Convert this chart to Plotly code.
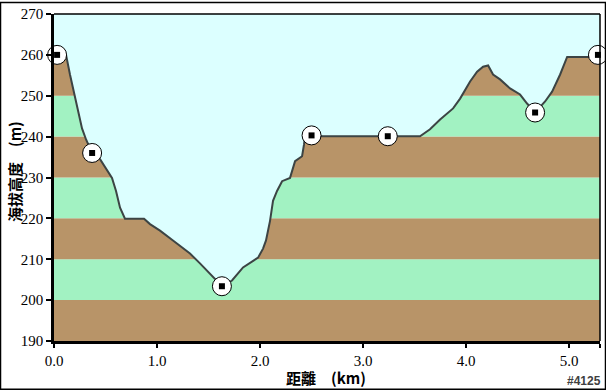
import plotly.graph_objects as go

# Elevation profile (distance km, elevation m)
dist_km = [0.0, 0.117, 0.155, 0.194, 0.233, 0.272, 0.311, 0.369, 0.447, 0.505, 0.563,
           0.602, 0.641, 0.689, 0.874, 0.932, 1.029, 1.155, 1.320, 1.417, 1.544, 1.631,
           1.728, 1.835, 1.981, 2.029, 2.058, 2.097, 2.126, 2.165, 2.214, 2.291, 2.340,
           2.408, 2.427, 2.437, 2.495, 2.610, 3.243, 3.553, 3.650, 3.748, 3.874, 3.942,
           4.039, 4.107, 4.165, 4.214, 4.262, 4.330, 4.427, 4.524, 4.592, 4.670, 4.767,
           4.835, 4.913, 4.961, 4.981, 5.300]
elev_m = [260.0, 260.0, 255.2, 251.0, 246.1, 242.0, 239.3, 236.0, 234.5, 232.3, 229.9,
          226.7, 222.6, 219.9, 219.9, 218.6, 217.0, 214.6, 211.4, 209.0, 205.6, 203.4,
          204.8, 208.0, 210.4, 212.6, 214.6, 219.4, 224.3, 226.7, 229.1, 229.9, 234.0,
          235.2, 238.1, 240.1, 240.3, 240.1, 240.1, 240.1, 241.8, 244.2, 246.9, 249.3,
          253.5, 255.9, 257.1, 257.4, 255.2, 254.0, 251.8, 250.3, 248.1, 245.9, 248.6,
          251.0, 255.2, 258.3, 259.5, 259.5]

# Waypoint markers
wp_km = [0.03, 0.37, 1.63, 2.50, 3.24, 4.67, 5.28]
wp_m = [260.0, 236.0, 203.4, 240.3, 240.1, 245.9, 260.0]

# Axis ticks
x_ticks = [0.0, 1.0, 2.0, 3.0, 4.0, 5.0, 5.3]
x_tick_text = ["0.0", "1.0", "2.0", "3.0", "4.0", "5.0", "5.3"]
y_ticks = [190, 200, 210, 220, 230, 240, 250, 260, 270]

# Elevation bands (lower, upper) alternating colours
bands = [(190, 200), (200, 210), (210, 220), (220, 230), (230, 240),
         (240, 250), (250, 260), (260, 270)]

BROWN = "#B89468"
GREEN = "#A2F2C2"
SKY = "#DCFFFF"

fig = go.Figure()

# top reference for sky fill
fig.add_trace(go.Scatter(x=[0.0, 5.3], y=[270, 270], mode="lines",
                         line=dict(width=0, color=SKY), hoverinfo="skip",
                         showlegend=False))
# profile with sky fill above it
fig.add_trace(go.Scatter(x=dist_km, y=elev_m, mode="lines",
                         line=dict(color="#3C4444", width=2),
                         fill="tonexty", fillcolor=SKY, showlegend=False))
# waypoint markers
fig.add_trace(go.Scatter(x=wp_km, y=wp_m, mode="markers",
                         marker=dict(symbol="circle", size=19, color="white",
                                     line=dict(color="black", width=1)),
                         cliponaxis=False, showlegend=False))
fig.add_trace(go.Scatter(x=wp_km, y=wp_m, mode="markers",
                         marker=dict(symbol="square", size=6, color="black"),
                         cliponaxis=False, showlegend=False))

shapes = []
for i, (lo, hi) in enumerate(bands):
    shapes.append(dict(type="rect", xref="x", yref="y", x0=0, x1=5.3, y0=lo, y1=hi,
                       fillcolor=BROWN if i % 2 == 0 else GREEN,
                       line=dict(width=0), layer="below"))
# top and right plot border
shapes.append(dict(type="line", xref="paper", yref="paper", x0=0, x1=1, y0=1, y1=1,
                   line=dict(color="black", width=1.5)))
shapes.append(dict(type="line", xref="paper", yref="paper", x0=1, x1=1, y0=0, y1=1,
                   line=dict(color="black", width=1.5)))
# outer figure border
shapes.append(dict(type="rect", xref="paper", yref="paper",
                   x0=-53.5 / 546, x1=551.5 / 546, y0=-48.5 / 329, y1=340.5 / 329,
                   line=dict(color="black", width=1.5), fillcolor="rgba(0,0,0,0)"))

tick_font = dict(family="Liberation Serif, 'Times New Roman', serif", size=15, color="black")

fig.update_layout(
    width=606, height=390,
    margin=dict(l=54, r=6, t=12, b=49),
    paper_bgcolor="white", plot_bgcolor="white",
    shapes=shapes,
    showlegend=False,
    xaxis=dict(range=[0, 5.3], tickvals=x_ticks, ticktext=x_tick_text,
               ticks="outside", ticklen=4, tickwidth=1.5, tickcolor="black",
               showline=True, linecolor="black", linewidth=2.5,
               showgrid=False, zeroline=False, tickfont=tick_font),
    yaxis=dict(range=[190, 270], tickvals=y_ticks,
               ticks="outside", ticklen=5, tickwidth=1.5, tickcolor="black",
               showline=True, linecolor="black", linewidth=2.5,
               showgrid=False, zeroline=False, tickfont=tick_font),
    annotations=[
        dict(text="<b>距離　(km)</b>", xref="paper", yref="paper",
             x=(326 - 54) / 546, y=-(378 - 341) / 329, xanchor="center", yanchor="middle",
             showarrow=False, font=dict(family="Noto Sans CJK TC", size=15, color="black")),
        dict(text="<b>海拔高度　(m)</b>", xref="paper", yref="paper",
             x=-(54 - 14) / 546, y=(341 - 171) / 329, xanchor="center", yanchor="middle",
             textangle=-90, showarrow=False,
             font=dict(family="Noto Sans CJK TC", size=15, color="black")),
        dict(text="<b>#4125</b>", xref="paper", yref="paper",
             x=(603 - 54) / 546, y=-(381 - 341) / 329, xanchor="right", yanchor="middle",
             showarrow=False, font=dict(family="Liberation Sans", size=12, color="#404040")),
    ],
)

fig.write_html("out.html", config={"displayModeBar": False},
               post_script="document.body.style.margin='0';document.body.style.padding='0';")
